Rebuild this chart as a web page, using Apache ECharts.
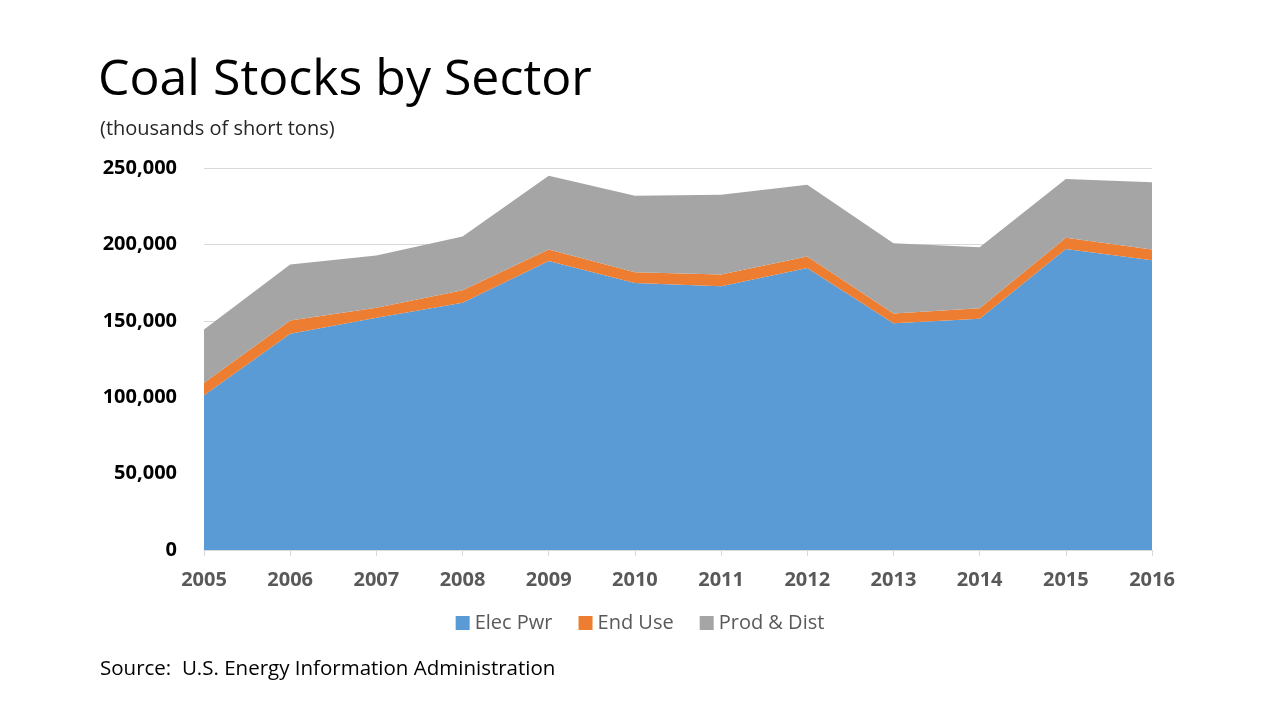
<!DOCTYPE html>
<html><head><meta charset="utf-8">
<script src="https://cdn.jsdelivr.net/npm/echarts@6/dist/echarts.min.js"></script>
<style>html,body{margin:0;padding:0;background:#fff}#c{width:1280px;height:720px}</style>
</head><body><div id="c"></div>
<script>
const years = ['2005','2006','2007','2008','2009','2010','2011','2012','2013','2014','2015','2016'];
const elecPwr = [101200,141500,152000,161800,189200,174800,172600,184600,148400,151300,197000,189600];
const endUse = [8300,8700,6500,8200,7400,7000,7700,7400,6400,6900,7400,7000];
const prodDist = [34800,36600,34200,35100,48400,50100,52200,47100,45900,39900,38400,44000];
const seriesNames = ['Elec Pwr','End Use','Prod & Dist'];
const colors = ['#5b9bd5','#ed7d31','#a5a5a5'];

const font = "'Open Sans', 'Noto Sans', sans-serif";
const chart = echarts.init(document.getElementById('c'));
const mk = (name, data, color) => ({
  name, type:'line', stack:'total', data, symbol:'none',
  lineStyle:{width:0}, areaStyle:{color, opacity:1}, itemStyle:{color},
  emphasis:{disabled:true}
});
chart.setOption({
  animation:false,
  textStyle:{fontFamily:font},
  title:[
    {text:'Coal Stocks by Sector', left:93, top:51, textStyle:{fontFamily:font, fontSize:50, fontWeight:'normal', color:'#000'}},
    {text:'(thousands of short tons)', left:95, top:114, textStyle:{fontFamily:font, fontSize:20, fontWeight:'normal', color:'#262626'}},
    {text:'Source:  U.S. Energy Information Administration', left:95, top:654, textStyle:{fontFamily:font, fontSize:20.5, fontWeight:'normal', color:'#000'}}
  ],
  legend:{
    data:seriesNames, left:'center', top:608, itemWidth:14, itemHeight:14, itemGap:26,
    icon:'rect',
    textStyle:{fontFamily:font, fontSize:20, color:'#595959'}
  },
  grid:{left:204, right:128, top:168, bottom:170},
  xAxis:{
    type:'category', data:years, boundaryGap:false,
    axisLine:{lineStyle:{color:'#d9d9d9'}},
    axisTick:{show:true, alignWithLabel:true, length:6, lineStyle:{color:'#d9d9d9'}},
    axisLabel:{fontFamily:font, fontSize:20, fontWeight:'bold', color:'#595959', margin:20}
  },
  yAxis:{
    type:'value', min:0, max:250000, interval:50000,
    axisLine:{show:false}, axisTick:{show:false},
    splitLine:{lineStyle:{color:'#d9d9d9'}},
    axisLabel:{fontFamily:font, fontSize:20, fontWeight:'bold', color:'#000', margin:27,
      formatter:v=>v.toLocaleString('en-US')}
  },
  series:[mk(seriesNames[0],elecPwr,colors[0]), mk(seriesNames[1],endUse,colors[1]), mk(seriesNames[2],prodDist,colors[2])]
});
</script></body></html>
